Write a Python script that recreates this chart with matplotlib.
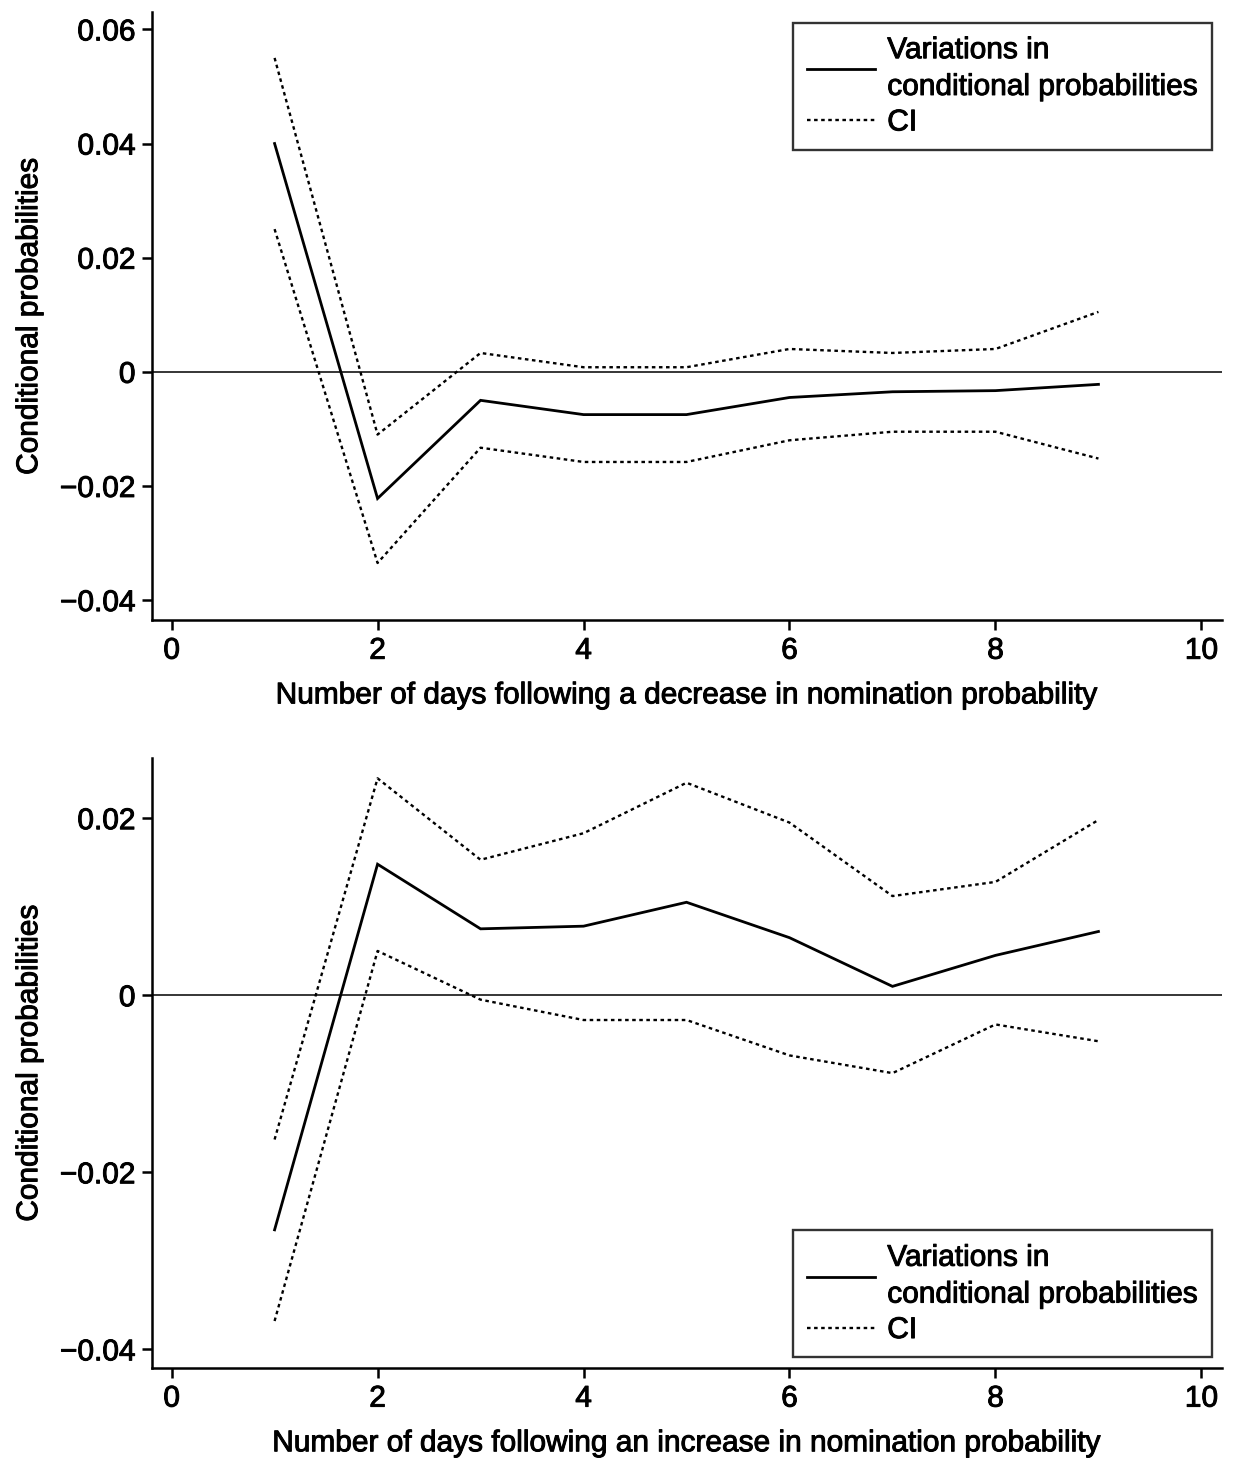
import matplotlib
matplotlib.use("Agg")
import matplotlib.pyplot as plt
import matplotlib.patheffects as pe
import numpy as np

plt.rcParams['font.family'] = ['Liberation Sans', 'DejaVu Sans']

days = [1, 2, 3, 4, 5, 6, 7, 8, 9]

dec_est = [0.040, -0.0222, -0.0050, -0.0075, -0.0075, -0.0045, -0.0035, -0.0033, -0.0022]
dec_hi = [0.055, -0.0110, 0.0033, 0.0008, 0.0008, 0.0040, 0.0033, 0.0040, 0.0105]
dec_lo = [0.025, -0.0335, -0.0133, -0.0158, -0.0158, -0.0120, -0.0105, -0.0105, -0.0152]

inc_est = [-0.0265, 0.0148, 0.0075, 0.0078, 0.0105, 0.0065, 0.0010, 0.0045, 0.0072]
inc_hi = [-0.0163, 0.0245, 0.0153, 0.0183, 0.0240, 0.0195, 0.0112, 0.0128, 0.0198]
inc_lo = [-0.0368, 0.0050, -0.0005, -0.0028, -0.0028, -0.0068, -0.0088, -0.0033, -0.0052]

xticks = [0, 2, 4, 6, 8, 10]
top_yticks = [-0.04, -0.02, 0, 0.02, 0.04, 0.06]
bot_yticks = [-0.04, -0.02, 0, 0.02]
top_xlabel = "Number of days following a decrease in nomination probability"
bot_xlabel = "Number of days following an increase in nomination probability"
ylabel = "Conditional probabilities"
leg_labels = ["Variations in\nconditional probabilities", "CI"]

fig = plt.figure(figsize=(12.37, 14.61), dpi=100)
ax1 = fig.add_axes([0.1229, 0.5756, 0.865, 0.416])
ax2 = fig.add_axes([0.1229, 0.0637, 0.865, 0.4175])

FS = 21.5
dot = (0, (1.5, 1.5))
heavy = [pe.withStroke(linewidth=0.7, foreground='black')]

def fmt(v):
    if v == 0:
        return "0"
    s = f"{abs(v):.2f}"
    return ("\u2212" if v < 0 else "") + s

for ax, est, hi, lo, yt, ylim, xl, legloc in [
    (ax1, dec_est, dec_hi, dec_lo, top_yticks, (-0.0435, 0.063), top_xlabel, 'upper right'),
    (ax2, inc_est, inc_hi, inc_lo, bot_yticks, (-0.0421, 0.0268), bot_xlabel, 'lower right'),
]:
    ax.axhline(0, color='black', lw=1.1, zorder=1)
    l1, = ax.plot(days, est, color='black', lw=2.0, solid_joinstyle='miter')
    l2, = ax.plot(days, hi, color='black', lw=1.7, linestyle=dot)
    ax.plot(days, lo, color='black', lw=1.7, linestyle=dot)
    ax.set_xlim(-0.19, 10.2)
    ax.set_ylim(*ylim)
    ax.set_xticks(xticks)
    ax.set_xticklabels([str(x) for x in xticks], fontsize=FS)
    ax.set_yticks(yt)
    ax.set_yticklabels([fmt(v) for v in yt], fontsize=FS)
    for t in ax.get_xticklabels() + ax.get_yticklabels():
        t.set_path_effects(heavy)
    ax.spines['top'].set_visible(False)
    ax.spines['right'].set_visible(False)
    ax.spines['left'].set_linewidth(1.8)
    ax.spines['bottom'].set_linewidth(1.8)
    ax.tick_params(direction='out', length=7, width=1.8, pad=5)
    ax.set_xlabel(xl, fontsize=FS, labelpad=12, path_effects=heavy)
    ax.set_ylabel(ylabel, fontsize=FS, labelpad=12, path_effects=heavy)
    leg = ax.legend([l1, l2], leg_labels, loc=legloc, fontsize=FS, frameon=True,
                    fancybox=False, edgecolor='black', handlelength=2.3,
                    handletextpad=0.4, borderpad=0.45, labelspacing=0.25,
                    borderaxespad=0.35)
    leg.get_frame().set_linewidth(1.7)
    for t in leg.get_texts():
        t.set_linespacing(1.4)
        t.set_path_effects(heavy)

fig.savefig("out.png", dpi=100)
